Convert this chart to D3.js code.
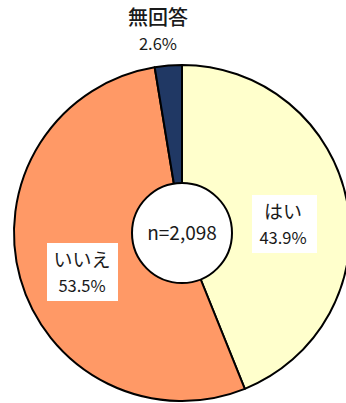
<!DOCTYPE html>
<html><head><meta charset="utf-8">
<script src="https://cdn.jsdelivr.net/npm/d3@7"></script>
<style>body{margin:0;background:#fff}svg{display:block}text{font-family:"Noto Sans CJK JP","Noto Sans",sans-serif;fill:#1a1a1a}</style>
</head><body><svg id="c" width="346" height="403"></svg>
<script>
const categories = ["はい", "いいえ", "無回答"];
const values = [43.9, 53.5, 2.6];
const colors = ["#FFFFCC", "#FF9966", "#203864"];
const totalLabel = "n=2,098";

const svg = d3.select("#c");
const cx = 182, cy = 233, R = 168, r0 = 50;
const g = svg.append("g").attr("transform", `translate(${cx},${cy})`);
const pie = d3.pie().sort(null).value(d => d)(values);
const arc = d3.arc().innerRadius(0).outerRadius(R);
g.selectAll("path.s").data(pie).join("path").attr("class","s")
  .attr("d", arc).attr("fill", (d,i) => colors[i])
  .attr("stroke", "#000").attr("stroke-width", 2).attr("stroke-linejoin","round");
g.append("circle").attr("r", r0).attr("fill", "#fff").attr("stroke", "#000").attr("stroke-width", 2);
g.append("text").attr("text-anchor","middle").attr("dy","0.35em").attr("font-size",19).text(totalLabel);

const labelPos = [
  {x: 101, y: -8, box: true},
  {x: -100, y: 40, box: true},
  {x: -24, y: -202, box: false}
];
pie.forEach((d, i) => {
  const p = labelPos[i];
  const lg = g.append("g").attr("transform", `translate(${p.x},${p.y})`);
  if (p.box) {
    lg.append("rect").attr("x", i===0 ? -31 : -35).attr("y", -30)
      .attr("width", i===0 ? 65 : 71).attr("height", 58).attr("fill", "#fff");
  }
  lg.append("text").attr("text-anchor","middle").attr("y", -13).attr("dy","0.35em")
    .attr("font-size", i===2 ? 20 : 19).attr("font-weight", i===2 ? 500 : 400).text(categories[i]);
  lg.append("text").attr("text-anchor","middle").attr("y", 13).attr("dy","0.35em")
    .attr("font-size", 16.5).text(d3.format(".1f")(values[i]) + "%");
});
</script></body></html>
